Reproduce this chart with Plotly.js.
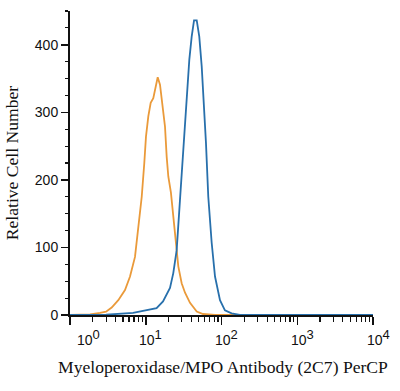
<!DOCTYPE html>
<html>
<head>
<meta charset="utf-8">
<script src="https://cdn.plot.ly/plotly-3.0.1.min.js"></script>
<style>html,body{margin:0;padding:0;background:#fff;}#chart{width:400px;height:391px;}</style>
</head>
<body>
<div id="chart"></div>
<script>
// Isotype control (orange)
var orangeX = [1.0, 1.16, 1.84, 2.49, 2.99, 3.55, 4.34, 5.32, 6.20, 7.21, 7.97, 8.85, 9.57, 10.07, 10.81, 11.62, 12.58, 13.53, 14.38, 15.42, 16.53, 17.95, 18.9, 19.85, 21.5, 23.1, 24.9, 26.9, 29.8, 33.0, 38.4, 47.1, 57, 82, 200, 1000, 10000];
var orangeY = [0, 0, 1, 3, 5, 11, 22, 37, 57, 86, 126, 175, 225, 264, 294, 314, 321, 338, 352, 341, 314, 279, 234, 205, 181, 146, 107, 72, 47, 33, 18, 5, 1.5, 0.3, 0, 0, 0];
// MPO antibody (blue)
var blueX = [1.0, 3.0, 6.8, 10.3, 13.9, 16.9, 20.9, 23.1, 25.6, 28.3, 31.3, 34.7, 37.6, 40.4, 43.4, 47.1, 50.9, 54.8, 57.5, 62.4, 66.9, 74.2, 82.1, 95.5, 111, 136, 175, 1000, 10000];
var blueY = [0, 0.5, 3, 6.5, 10, 20, 40, 62, 96, 170, 244, 323, 378, 412, 436, 436, 412, 368, 328, 254, 175, 107, 57, 22, 7, 2.5, 0, 0, 0];

var xTickVals = [1, 10, 100, 1000, 10000];
var xTickExp = ['0', '1', '2', '3', '4'];
var xMinorVals = [2,3,4,5,6,7,8,9,20,30,40,50,60,70,80,90,200,300,400,500,600,700,800,900,2000,3000,4000,5000,6000,7000,8000,9000];
var yTickVals = [0, 100, 200, 300, 400];
var yTickText = ['0', '100', '200', '300', '400'];

var xTitle = 'Myeloperoxidase/MPO Antibody (2C7) PerCP';
var yTitle = 'Relative Cell Number';

var traces = [
  {x: orangeX, y: orangeY, type: 'scatter', mode: 'lines', line: {color: '#EA9A3A', width: 1.8}, hoverinfo: 'skip'},
  {x: blueX, y: blueY, type: 'scatter', mode: 'lines', line: {color: '#2870AC', width: 1.8}, hoverinfo: 'skip'}
];

var annotations = xTickVals.map(function(v, i) {
  return {
    x: Math.log10(v), xref: 'x', y: 0, yref: 'paper',
    text: '10<sup><span style="font-size:13px">' + xTickExp[i] + '</span></sup>',
    showarrow: false, xanchor: 'center', yanchor: 'top',
    yshift: -10, xshift: (i === 0 ? 18 : 5),
    font: {family: 'Liberation Sans, Arial, sans-serif', size: 14, color: '#111'}
  };
});
annotations.push({
  x: 0.505, xref: 'paper', y: 0, yref: 'paper', yanchor: 'top', yshift: -40,
  text: xTitle, showarrow: false,
  font: {family: 'Liberation Serif, Times New Roman, serif', size: 17.6, color: '#111'}
});

var layout = {
  width: 400, height: 391,
  margin: {l: 70, r: 27, t: 11, b: 76},
  paper_bgcolor: '#fff', plot_bgcolor: '#fff',
  showlegend: false,
  xaxis: {
    type: 'log', range: [0, 4],
    showgrid: false, zeroline: false,
    showline: true, linecolor: '#111', linewidth: 2,
    ticks: 'outside', ticklen: 8, tickwidth: 1.5, tickcolor: '#111',
    tickvals: xTickVals, showticklabels: false,
    minor: {tickvals: xMinorVals, ticks: 'outside', ticklen: 5, tickwidth: 1.2, tickcolor: '#111', showgrid: false}
  },
  yaxis: {
    range: [0, 450],
    showgrid: false, zeroline: false,
    showline: true, linecolor: '#111', linewidth: 2,
    ticks: 'outside', ticklen: 7, tickwidth: 1.5, tickcolor: '#111',
    tickvals: yTickVals, ticktext: yTickText,
    tickfont: {family: 'Liberation Sans, Arial, sans-serif', size: 14, color: '#111'},
    minor: {dtick: 25, ticks: 'outside', ticklen: 3.5, tickwidth: 1.2, tickcolor: '#111', showgrid: false},
    title: {text: yTitle, standoff: 12, font: {family: 'Liberation Serif, Times New Roman, serif', size: 17.6, color: '#111'}}
  },
  annotations: annotations
};

Plotly.newPlot('chart', traces, layout, {staticPlot: true, displayModeBar: false});
</script>
</body>
</html>
